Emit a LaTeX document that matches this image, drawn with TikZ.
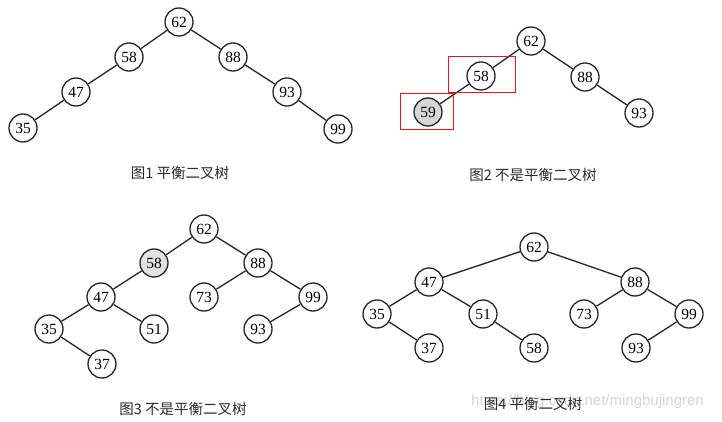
\documentclass[tikz,border=0pt]{standalone}
\usepackage{fontspec}
\setmainfont{Liberation Serif}
\newfontfamily\cjk{Noto Sans CJK SC}
\newfontfamily\wmfont{Liberation Sans}
\definecolor{capgray}{HTML}{2A2A2A}
\definecolor{fillA}{HTML}{D6D6D6}
\definecolor{fillB}{HTML}{E2E2E2}
\definecolor{wm}{HTML}{D4D4D4}
\definecolor{redbox}{HTML}{E8141E}
\tikzset{
  tn/.style={circle, draw=black!85, line width=1.3pt, minimum size=28pt, inner sep=0pt, font=\fontsize{15.5}{15.5}\selectfont, fill=white},
  tedge/.style={draw=black!85, line width=1.3pt},
  captxt/.style={font=\cjk\fontsize{14.5}{14.5}\selectfont, text=capgray, inner sep=0pt},
  hl/.style={draw=redbox, line width=1pt},
}
\begin{document}
\begin{tikzpicture}[x=1pt,y=-1pt]
\useasboundingbox (0,0) rectangle (722,422);
\node[font=\wmfont\fontsize{15}{15}\selectfont, text=wm, anchor=west, inner sep=0pt] (wmk) at (471,402) {https://blog.csdn.net/mingbujingren};
% Figure 1
\node[tn] (a62) at (179,22) {62};
\node[tn] (a58) at (129,57) {58};
\node[tn] (a88) at (233,57) {88};
\node[tn] (a47) at (76,92) {47};
\node[tn] (a93) at (287,92) {93};
\node[tn] (a35) at (23,128) {35};
\node[tn] (a99) at (338,129) {99};
\draw[tedge] (a62) -- (a58); \draw[tedge] (a62) -- (a88);
\draw[tedge] (a58) -- (a47); \draw[tedge] (a47) -- (a35);
\draw[tedge] (a88) -- (a93); \draw[tedge] (a93) -- (a99);
\node[captxt] (c1) at (180,173) {图1 平衡二叉树};
% Figure 2
\node[tn] (b62) at (531,41) {62};
\node[tn] (b58) at (481,76) {58};
\node[tn] (b88) at (585,77) {88};
\node[tn, fill=fillA] (b59) at (428,112) {59};
\node[tn] (b93) at (639,113) {93};
\draw[tedge] (b62) -- (b58); \draw[tedge] (b62) -- (b88);
\draw[tedge] (b58) -- (b59); \draw[tedge] (b88) -- (b93);
\draw[hl] (448,57) rectangle (515,93);
\draw[hl] (400,94) rectangle (453,130);
\node[captxt] (c2) at (533,175) {图2 不是平衡二叉树};
% Figure 3
\node[tn] (d62) at (204,229) {62};
\node[tn, fill=fillB] (d58) at (154,263) {58};
\node[tn] (d88) at (258,263) {88};
\node[tn] (d47) at (101,297) {47};
\node[tn] (d73) at (204,297) {73};
\node[tn] (d99) at (313,297) {99};
\node[tn] (d35) at (49,329) {35};
\node[tn] (d51) at (154,329) {51};
\node[tn] (d93) at (258,329) {93};
\node[tn] (d37) at (102,364) {37};
\draw[tedge] (d62) -- (d58); \draw[tedge] (d62) -- (d88);
\draw[tedge] (d58) -- (d47); \draw[tedge] (d47) -- (d35);
\draw[tedge] (d47) -- (d51); \draw[tedge] (d35) -- (d37);
\draw[tedge] (d88) -- (d73); \draw[tedge] (d88) -- (d99);
\draw[tedge] (d99) -- (d93);
\node[captxt] (c3) at (183,409) {图3 不是平衡二叉树};
% Figure 4
\node[tn] (e62) at (534,247) {62};
\node[tn] (e47) at (429,282) {47};
\node[tn] (e88) at (635,282) {88};
\node[tn] (e35) at (377,314) {35};
\node[tn] (e51) at (483,314) {51};
\node[tn] (e73) at (584,314) {73};
\node[tn] (e99) at (689,314) {99};
\node[tn] (e37) at (429,348) {37};
\node[tn] (e58) at (534,348) {58};
\node[tn] (e93) at (636,348) {93};
\draw[tedge] (e62) -- (e47); \draw[tedge] (e62) -- (e88);
\draw[tedge] (e47) -- (e35); \draw[tedge] (e47) -- (e51);
\draw[tedge] (e35) -- (e37); \draw[tedge] (e51) -- (e58);
\draw[tedge] (e88) -- (e73); \draw[tedge] (e88) -- (e99);
\draw[tedge] (e99) -- (e93);
\node[captxt] (c4) at (533,404) {图4 平衡二叉树};
\end{tikzpicture}
\end{document}
